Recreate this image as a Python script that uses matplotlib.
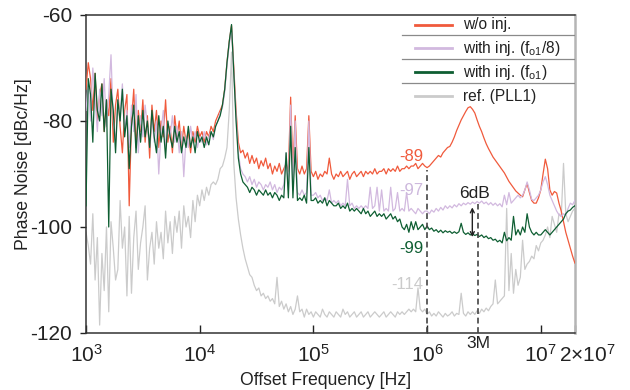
import numpy as np
import matplotlib
matplotlib.use("Agg")
import matplotlib.pyplot as plt
from matplotlib.lines import Line2D
from matplotlib.ticker import NullLocator
from matplotlib.transforms import ScaledTranslation, blended_transform_factory

plt.rcParams['font.family'] = ['Liberation Sans', 'DejaVu Sans']
plt.rcParams['mathtext.default'] = 'regular'

# ---- sampling grid (log10 of offset frequency, 0.02-decade steps 3.00 .. 7.30)
log_f_start = 3.0
log_f_step = 0.02
n_pts = 216
freq = 10 ** (log_f_start + log_f_step * np.arange(n_pts))

# ---- series values [dBc/Hz]
wo_inj = [
    -74, -69, -72, -78, -71, -80, -75, -73, -82, -76,
    -79, -72, -84, -77, -74, -81, -86, -78, -75, -96,
    -80, -74, -85, -78, -82, -76, -84, -79, -87, -77,
    -82, -78, -85, -80, -83, -76, -84, -81, -86, -79,
    -83, -80, -85, -81, -84, -82, -86, -82, -84, -81,
    -83, -82, -84, -82, -83, -81, -82, -80, -79, -78,
    -77, -74, -69, -65, -62, -70, -78, -84, -86, -85.5,
    -87, -86, -88, -86.5, -88, -87, -89, -87.5, -88.5, -87,
    -89, -88, -90, -88.5, -89.5, -88, -90, -89, -88, -89.5,
    -75.5, -89, -79, -89, -90, -88.5, -90, -89, -79, -89.5,
    -90.5, -89.5, -91, -90, -90.5, -89.5, -90, -87, -90, -91,
    -90, -90.5, -89.5, -90.5, -90, -89.5, -91, -90, -89.5, -90.5,
    -90, -89.5, -90.5, -89.5, -90, -89.5, -90, -89, -90, -89.5,
    -89.5, -89, -90, -89, -89.5, -89, -89.5, -88.5, -89.5, -89,
    -89, -88.5, -89, -88.5, -88.5, -88, -89, -88.5, -88, -88.5,
    -88.8, -88.5, -88, -87.5, -87, -86.5, -86.8, -86, -85.5, -85,
    -84.8, -84, -83, -81.8, -80.8, -79.8, -79, -78.2, -77.5, -77.3,
    -77.8, -78.5, -79.8, -81, -82, -83.2, -84.3, -85.2, -86, -86.8,
    -87.4, -88, -88.6, -89.2, -89.8, -90.6, -91.4, -92, -92.6, -93.2,
    -93.6, -94, -94.3, -93, -91.8, -93.5, -95, -95.5, -95.5, -94.5,
    -93, -90, -87.2, -89, -93, -94, -93.3, -93.6, -95.5, -97,
    -99, -101, -102.5, -104, -105.5, -106.8]

inj_fo1_8 = [
    -78, -73, -80, -70, -76, -82, -74, -79, -72, -81,
    -75, -67.5, -80, -84, -76, -79, -73, -82, -78, -85,
    -77, -82, -75, -86, -79, -83, -77, -81, -85, -79,
    -84, -80, -90, -82, -78, -85, -81, -83, -79, -84,
    -81, -86, -82, -90.5, -83, -85, -81, -84, -82, -85,
    -83, -84, -82, -84.5, -83, -82, -83.5, -81, -80, -78.5,
    -77.5, -74.5, -69.5, -65.5, -62.5, -71, -79, -86, -89, -90,
    -90.5, -91.5, -90.5, -92, -91, -92.5, -91.5, -92, -93, -92,
    -92.5, -91.5, -93, -92, -93.5, -92.5, -93, -92, -86, -93,
    -77, -93, -80, -93.5, -94, -93, -94, -93.5, -80, -94,
    -94, -93.5, -94.5, -94, -95, -94.5, -95, -93, -95.5, -95,
    -95.5, -95, -96, -95.5, -96, -91, -96, -95.5, -96.5, -96,
    -96.5, -96, -96.5, -96, -96.5, -92.5, -96.5, -96, -92.5, -97,
    -93, -97, -96.5, -97, -92.5, -97, -96.5, -93.5, -97, -96.5,
    -97, -93.5, -97, -96.5, -97, -97.5, -96.5, -97, -97.5, -97,
    -97, -97.5, -96.8, -97.2, -96.5, -97, -96.3, -96.8, -96, -96.5,
    -96, -96.4, -95.8, -96.2, -95.6, -96, -95.5, -95.8, -95.4, -95.7,
    -95.3, -95.6, -95.2, -95.5, -95.1, -95.6, -95.3, -95.8, -95.4, -95.9,
    -95.5, -96, -95.6, -96.2, -94, -95.8, -93.5, -95.5, -95, -94.5,
    -94, -94.5, -94, -93, -91.5, -93, -94.8, -95, -94.5, -94,
    -93, -91.5, -90.5, -92, -94, -95, -96, -97, -97.7, -98,
    -97.5, -97.8, -96.5, -95.5, -95.8, -95]

inj_fo1 = [
    -96, -72, -75, -84, -71, -78, -80, -73, -82, -76,
    -100, -74, -78, -86, -76, -80, -74, -83, -79, -89,
    -81, -77, -86, -79, -84, -78, -83, -80, -85, -78,
    -83, -86, -79, -84, -81, -87, -80, -83, -85, -81,
    -84, -82, -86, -83, -85, -81, -85, -83, -86, -82,
    -84, -83, -85, -83, -84.5, -82, -83, -81, -80, -79,
    -77, -74, -69, -65, -61.8, -71, -80, -87, -90, -91.5,
    -92, -92.5, -93.5, -92.5, -93, -94, -93, -93.5, -94, -93,
    -94, -93.5, -94.5, -93.5, -94, -95, -94, -94.5, -86, -94.5,
    -81, -94.5, -85, -95, -94.5, -95, -94, -95.5, -85, -95,
    -95, -94.5, -95.5, -95, -95.5, -94.5, -96, -95, -95.5, -96,
    -96, -95.5, -96.5, -96, -96.5, -95.5, -97, -96.5, -97, -96.5,
    -97, -97.5, -96.5, -97.5, -97, -98, -97.5, -97, -98, -97.5,
    -98, -97.5, -98.5, -98, -97.5, -98.5, -98, -99, -98.5, -100,
    -100.5, -99.5, -101, -99, -100.5, -99, -100.5, -100, -99.5, -100.5,
    -99.8, -100.5, -100.2, -100.8, -100.5, -101, -100.6, -101.1, -100.7, -101,
    -100.8, -101.2, -100.9, -101.2, -100.9, -99.3, -101, -101.4, -101.1, -101.5,
    -101.3, -101.6, -101.4, -101.8, -101.5, -102, -101.7, -102.2, -102, -102.5,
    -102.3, -102.8, -102.5, -103, -101, -102.6, -102, -102.5, -98, -101.5,
    -100.5, -101.5, -100, -101, -97.5, -100, -101, -101.5, -101, -101.5,
    -101.5, -101, -100.5, -101, -101.5, -101, -100.5, -100, -99.5, -99,
    -98.5, -97.5, -97, -96.8, -96.3, -96]

ref_pll1 = [
    -101, -103.5, -107, -97.5, -110, -102, -118.5, -105, -112, -100,
    -116, -99, -104, -110, -108, -95, -104, -100, -113, -98,
    -112.5, -102, -97, -108, -103, -100, -96, -110, -104, -101,
    -107, -99, -104, -101, -106, -97, -103, -99, -105, -98,
    -101, -97, -104, -96, -100, -98, -102, -95, -99, -94,
    -96, -93, -95, -92.5, -94, -92, -91.5, -92, -91, -89,
    -88.5, -87, -85, -78, -67, -88, -94.5, -98.5, -101.5, -104,
    -106, -107.5, -109, -109.5, -111, -112, -111.5, -113, -112.5, -113.5,
    -113, -114, -113.5, -114.5, -109.5, -115, -114, -115.5, -114.5, -116,
    -115, -116.5, -115.5, -113, -116, -115.5, -117, -115.5, -116.5, -116,
    -117, -116, -116.5, -117, -115.5, -116.5, -117, -116, -116.5, -117,
    -116, -116.5, -117, -115.5, -116.5, -116, -117, -116.5, -116, -117,
    -116.5, -116, -117, -116.5, -116, -117, -116.5, -116, -116.5, -117,
    -116.5, -116, -117, -116.5, -116, -116.5, -117, -116, -116.5, -116,
    -116.5, -116, -115.5, -116, -115.5, -116, -111.5, -115.5, -116, -115.5,
    -116.5, -116, -116.8, -116.3, -116.8, -116, -116.5, -117, -116.3, -116.8,
    -116.5, -116, -116.8, -116.3, -116.5, -112.5, -116.3, -116.8, -116, -116.5,
    -116, -116.5, -115.8, -116.3, -115.5, -116, -115.3, -115.8, -115, -114.5,
    -110, -114.5, -114, -113.5, -113, -96.5, -112, -105, -112.5, -108,
    -111, -109.5, -102.5, -108, -107, -106.5, -105.5, -106, -103.5, -104.5,
    -103, -102.5, -101.5, -100, -102, -98, -99.5, -101, -97.5, -98,
    -88, -97.5, -99, -98, -97, -96.5]

series_labels = ['w/o inj.', 'with inj. (f$_{o1}$/8)', 'with inj. (f$_{o1}$)', 'ref. (PLL1)']
series_colors = ['#F05A3C', '#D2B9DF', '#0E5E32', '#CBCBCB']

x_ticks = [1e3, 1e4, 1e5, 1e6, 1e7, 2e7]
x_tick_labels = ['$10^{3}$', '$10^{4}$', '$10^{5}$', '$10^{6}$', '$10^{7}$', '$2{\\times}10^{7}$']
y_ticks = [-120, -100, -80, -60]

# annotations
level_texts = ['-89', '-97', '-99', '-114']
level_x = [9.3e5, 9.3e5, 9.3e5, 9.3e5]
level_y = [-86.7, -93.2, -104.0, -110.8]
level_colors = ['#F05A3C', '#CDB8DD', '#0E5E32', '#CBCBCB']
marker_freqs = [1e6, 2.8e6]
marker_tops = [-89.2, -95.6]
arrow_freq = 2.5e6
arrow_top, arrow_bottom = -96.3, -101.9

W, H = 630, 390
AX_L, AX_R, AX_T, AX_B = 86, 575, 15, 333

fig = plt.figure(figsize=(6.3, 3.9), dpi=100)
ax = fig.add_axes([AX_L / W, 1 - AX_B / H, (AX_R - AX_L) / W, (AX_B - AX_T) / H])


def ax_fx(px):
    return (px - AX_L) / (AX_R - AX_L)


def ax_fy(py):
    return (AX_B - py) / (AX_B - AX_T)


data = [wo_inj, inj_fo1_8, inj_fo1, ref_pll1]
zorders = [3, 4, 5, 2]
for vals, lab, col, z in zip(data, series_labels, series_colors, zorders):
    ax.plot(freq, vals, color=col, lw=0.9, label=lab, zorder=z)

ax.set_xscale('log')
ax.set_xlim(1e3, 2e7)
ax.set_ylim(-120, -60)
ax.set_xticks(x_ticks)
ax.set_xticklabels(x_tick_labels)
ax.xaxis.set_minor_locator(NullLocator())
ax.set_yticks(y_ticks)
ax.set_yticklabels([str(v) for v in y_ticks])
ax.tick_params(axis='x', direction='in', length=6, width=1, pad=8, labelsize=15, colors='#222222')
ax.tick_params(axis='y', direction='out', length=4, width=1, pad=6, labelsize=15, colors='#222222')

# shift 2x10^7 label right
lbl = ax.get_xticklabels()[-1]
lbl.set_transform(lbl.get_transform() + ScaledTranslation(12 / 100, 0, fig.dpi_scale_trans))

for s in ['left', 'bottom', 'top']:
    ax.spines[s].set_color('#333333')
    ax.spines[s].set_linewidth(1.1)
ax.spines['right'].set_color('#B5B5B5')
ax.spines['right'].set_linewidth(1.8)

ax.set_ylabel('Phase Noise [dBc/Hz]', fontsize=12.7, color='#222222')
ax.yaxis.set_label_coords(ax_fx(32), 0.531)
ax.set_xlabel('Offset Frequency [Hz]', fontsize=12.7, color='#222222')
ax.xaxis.set_label_coords(ax_fx(326), ax_fy(372))

# dashed markers
for f, top in zip(marker_freqs, marker_tops):
    ax.plot([f, f], [-120, top], color='#444444', lw=1.2, ls=(0, (3.5, 2.2)), zorder=6)

trans = blended_transform_factory(ax.transData, ax.transAxes)
ax.text(marker_freqs[1], ax_fy(344), '3M', transform=trans, ha='center', va='center',
        fontsize=12.5, color='#222222', clip_on=False)

ax.annotate('', xy=(arrow_freq, arrow_top), xytext=(arrow_freq, arrow_bottom),
            arrowprops=dict(arrowstyle='<->', lw=1.0, color='#222222',
                            mutation_scale=7, shrinkA=0, shrinkB=0), zorder=7)
ax.text(2.6e6, -93.6, '6dB', ha='center', va='center', fontsize=12.5, color='#222222', zorder=7)

for t, x, y, c in zip(level_texts, level_x, level_y, level_colors):
    ax.text(x, y, t, ha='right', va='center', fontsize=12, color=c, zorder=7)

# legend drawn as a ruled table
row_py = [25, 48, 72, 96]
for yy, lab, col in zip(row_py, series_labels, series_colors):
    fy = ax_fy(yy)
    ax.add_line(Line2D([ax_fx(415), ax_fx(452)], [fy, fy], transform=ax.transAxes,
                       color=col, lw=2.0, zorder=8))
    ax.text(ax_fx(463), fy, lab, transform=ax.transAxes, ha='left', va='center',
            fontsize=11.2, color='#222222', zorder=8)
for yy in [35, 59, 83]:
    fy = ax_fy(yy)
    ax.add_line(Line2D([ax_fx(402), 1.0], [fy, fy], transform=ax.transAxes,
                       color='#8A8A8A', lw=0.9, zorder=8))

fig.savefig('out.png', dpi=100)
